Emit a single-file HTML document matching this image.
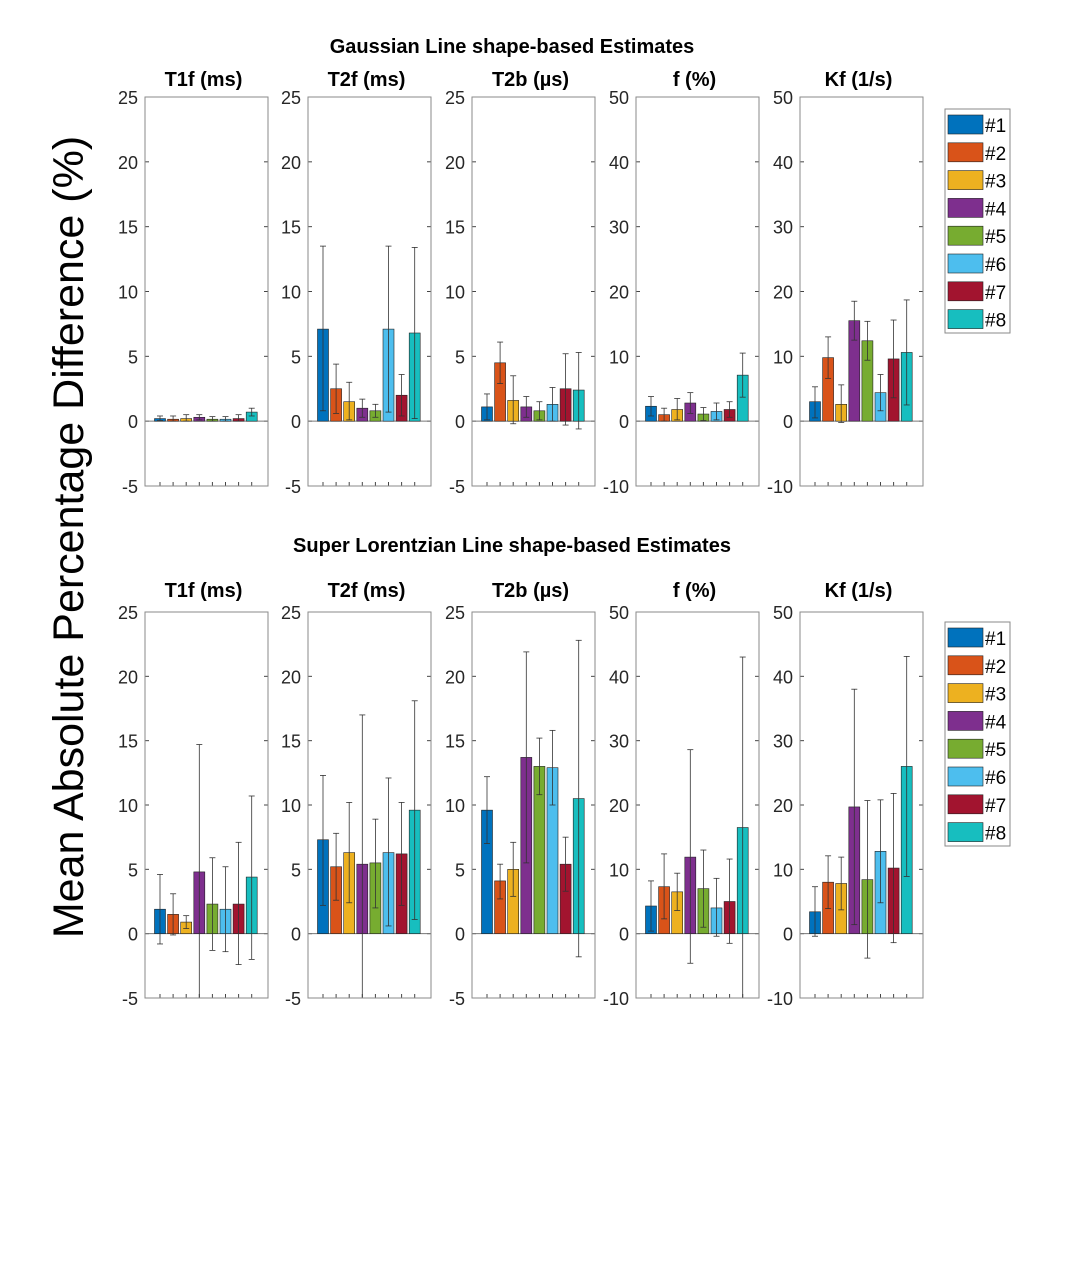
<!DOCTYPE html>
<html><head><meta charset="utf-8"><style>
html,body{margin:0;padding:0;background:#fff;}
svg text{font-family:"Liberation Sans",sans-serif;}
</style></head><body>
<svg id="s" width="1077" height="1280" xmlns="http://www.w3.org/2000/svg"></svg>
<script>
(function(){
const S=document.getElementById('s');
let h='';
const cols=['#0072BD','#D95319','#EDB120','#7E2F8E','#77AC30','#4DBEEE','#A2142F','#17BEBF'];
const px=[145,308,472,636,800], W=123;
const titles=['T1f (ms)','T2f (ms)','T2b (µs)','f (%)','Kf (1/s)'];
const rng=[[-5,25],[-5,25],[-5,25],[-10,50],[-10,50]];
const topD=[
[[0.2,0.4,0.05],[0.15,0.4,0],[0.2,0.5,0],[0.3,0.5,0.1],[0.15,0.35,0],[0.15,0.35,0],[0.2,0.5,0],[0.7,1.0,0.4]],
[[7.1,13.5,0.8],[2.5,4.4,0.6],[1.5,3.0,0.1],[1.0,1.7,0.3],[0.8,1.3,0.3],[7.1,13.5,0.7],[2.0,3.6,0.4],[6.8,13.4,0.2]],
[[1.1,2.1,0.1],[4.5,6.1,2.9],[1.6,3.5,-0.2],[1.1,1.9,0.3],[0.8,1.5,0.1],[1.3,2.6,0],[2.5,5.2,-0.3],[2.4,5.3,-0.6]],
[[2.3,3.8,0.8],[1,2,0],[1.8,3.5,0.2],[2.8,4.4,1.2],[1.1,2.1,0.1],[1.5,2.8,0.2],[1.8,3,0.6],[7.1,10.5,3.7]],
[[3,5.3,0.5],[9.8,13,6.6],[2.6,5.6,-0.2],[15.5,18.5,12.5],[12.4,15.4,9.4],[4.4,7.2,1.6],[9.6,15.6,3.6],[10.6,18.7,2.5]]];
const botD=[
[[1.9,4.6,-0.8],[1.5,3.1,-0.1],[0.9,1.4,0.4],[4.8,14.7,-5],[2.3,5.9,-1.3],[1.9,5.2,-1.4],[2.3,7.1,-2.4],[4.4,10.7,-2]],
[[7.3,12.3,2.2],[5.2,7.8,2.6],[6.3,10.2,2.4],[5.4,17,-5],[5.5,8.9,2.0],[6.3,12.1,0.6],[6.2,10.2,2.2],[9.6,18.1,1.1]],
[[9.6,12.2,7],[4.1,5.4,2.7],[5.0,7.1,2.9],[13.7,21.9,5.5],[13,15.2,10.8],[12.9,15.8,10],[5.4,7.5,3.3],[10.5,22.8,-1.8]],
[[4.3,8.2,0.4],[7.3,12.4,2.3],[6.5,9.4,3.6],[11.9,28.6,-4.6],[7,13,1],[4,8.6,-0.4],[5,11.6,-1.5],[16.5,43,-10]],
[[3.4,7.3,-0.4],[8,12.1,3.9],[7.8,11.9,3.7],[19.7,38,1.4],[8.4,20.7,-3.8],[12.8,20.8,4.8],[10.2,21.8,-1.4],[26,43.1,8.9]]];
function row(y0,y1,data,titleY,supY,sup,legY){
 h+=`<text x="512" y="${supY}" font-size="20" font-weight="bold" text-anchor="middle" fill="#000">${sup}</text>`;
 for(let p=0;p<5;p++){
  const x0=px[p],lo=rng[p][0],hi=rng[p][1];
  const Y=v=>y1-(v-lo)/(hi-lo)*(y1-y0);
  h+=`<text x="${x0+W/2-3}" y="${titleY}" font-size="20" font-weight="bold" text-anchor="middle" fill="#000">${titles[p]}</text>`;
  const step=(hi-lo)/6;
  for(let i=0;i<=6;i++){const v=lo+i*step,y=Y(v);
   h+=`<text x="${x0-7}" y="${y+7}" font-size="18" text-anchor="end" fill="#262626">${v}</text>`;
   h+=`<line x1="${x0}" x2="${x0+4}" y1="${y}" y2="${y}" stroke="#444"/><line x1="${x0+W}" x2="${x0+W-4}" y1="${y}" y2="${y}" stroke="#444"/>`;}
  h+=`<line x1="${x0}" x2="${x0+W}" y1="${Y(0)}" y2="${Y(0)}" stroke="#777"/>`;
  for(let b=0;b<8;b++){const c=x0+15+b*13.1,d=data[p][b];
   h+=`<line x1="${c}" x2="${c}" y1="${y1}" y2="${y1-4}" stroke="#444"/>`;
   h+=`<rect x="${c-5.5}" y="${Y(d[0])}" width="11" height="${Y(0)-Y(d[0])}" fill="${cols[b]}" stroke="#222" stroke-width="0.6"/>`;
   const a=Y(d[1]),e=Y(Math.max(d[2],lo));
   h+=`<line x1="${c}" x2="${c}" y1="${a}" y2="${e}" stroke="#333" stroke-width="0.8"/><line x1="${c-3}" x2="${c+3}" y1="${a}" y2="${a}" stroke="#333" stroke-width="0.8"/><line x1="${c-3}" x2="${c+3}" y1="${e}" y2="${e}" stroke="#333" stroke-width="0.8"/>`;}
  h+=`<rect x="${x0}" y="${y0}" width="${W}" height="${y1-y0}" fill="none" stroke="#8a8a8a" stroke-width="1"/>`;
 }
 h+=`<rect x="945" y="${legY}" width="65" height="224" fill="#fff" stroke="#8a8a8a"/>`;
 for(let b=0;b<8;b++){const y=legY+6+b*27.8;
  h+=`<rect x="948" y="${y}" width="35" height="19" fill="${cols[b]}" stroke="#222" stroke-width="0.6"/><text x="985" y="${y+17}" font-size="19" fill="#000">#${b+1}</text>`;}
}
row(97,486,topD,86,53,'Gaussian Line shape-based Estimates',109);
row(612,998,botD,597,552,'Super Lorentzian Line shape-based Estimates',622);
h+=`<text transform="translate(83,537) rotate(-90)" font-size="43" text-anchor="middle" fill="#000">Mean Absolute Percentage Difference (%)</text>`;
S.innerHTML=h;
})();
</script>
</body></html>
